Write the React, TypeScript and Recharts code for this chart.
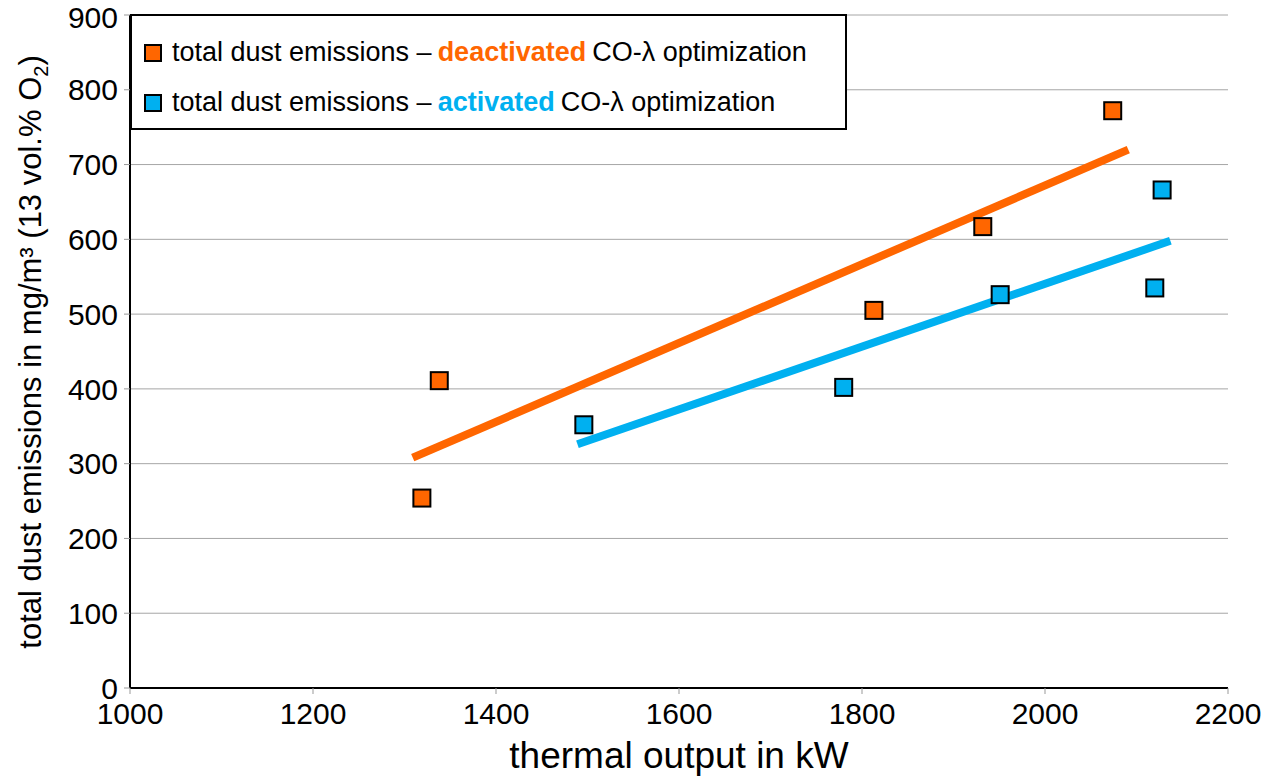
import {
  ScatterChart,
  Scatter,
  XAxis,
  YAxis,
  CartesianGrid,
} from "recharts";

const deactivated = [
  { x: 1319, y: 254 },
  { x: 1338, y: 411 },
  { x: 1813, y: 505 },
  { x: 1932, y: 617 },
  { x: 2074, y: 772 },
];

const activated = [
  { x: 1496, y: 352 },
  { x: 1780, y: 402 },
  { x: 1951, y: 526 },
  { x: 2120, y: 535 },
  { x: 2128, y: 666 },
];

const deactivatedTrend = [
  { x: 1309, y: 308 },
  { x: 2091, y: 720 },
];

const activatedTrend = [
  { x: 1489, y: 326 },
  { x: 2137, y: 598 },
];

const xTicks = [1000, 1200, 1400, 1600, 1800, 2000, 2200];
const yTicks = [0, 100, 200, 300, 400, 500, 600, 700, 800, 900];

const ORANGE = "#ff6600";
const BLUE = "#00b0f0";
const FONT = "'Liberation Sans', Arial, sans-serif";

const square = (fill: string) => (props: any) => {
  const { cx, cy } = props;
  return (
    <rect
      x={cx - 8.5}
      y={cy - 8.5}
      width={17}
      height={17}
      fill={fill}
      stroke="#000"
      strokeWidth={2}
    />
  );
};

const noShape = () => <g />;

const YLabel = () => (
  <text
    transform="translate(41, 352) rotate(-90)"
    textAnchor="middle"
    fontFamily={FONT}
    fontSize={31}
    fill="#000"
  >
    total dust emissions in mg/m³ (13 vol.% O
    <tspan fontSize={20} dy={7}>
      2
    </tspan>
    <tspan dy={-7}>)</tspan>
  </text>
);

const LegendBox = () => (
  <div
    style={{
      position: "absolute",
      left: 130,
      top: 14,
      width: 713,
      height: 112,
      background: "#fff",
      border: "2px solid #000",
      fontFamily: FONT,
      fontSize: 27,
      color: "#000",
    }}
  >
    {[
      { color: ORANGE, word: "deactivated", top: 21 },
      { color: BLUE, word: "activated", top: 71 },
    ].map((r) => (
      <div
        key={r.word}
        style={{
          position: "absolute",
          left: 12,
          top: r.top,
          display: "flex",
          alignItems: "center",
          whiteSpace: "nowrap",
        }}
      >
        <span
          style={{
            display: "inline-block",
            width: 14,
            height: 14,
            background: r.color,
            border: "2px solid #000",
            marginRight: 10,
          }}
        />
        <span style={{ color: "#000" }}>total dust emissions – </span>
        <span style={{ color: r.color, fontWeight: "bold", margin: "0 6px" }}>
          {r.word}
        </span>
        <span style={{ color: "#000" }}>CO-λ optimization</span>
      </div>
    ))}
  </div>
);

export default function App() {
  return (
    <div
      style={{
        position: "absolute",
        left: 0,
        top: 0,
        width: 1268,
        height: 778,
        background: "#fff",
      }}
    >
      <ScatterChart
        width={1268}
        height={778}
        margin={{ top: 15, right: 40, bottom: 0, left: 0 }}
      >
        <CartesianGrid vertical={false} stroke="#a6a6a6" />
        <XAxis
          type="number"
          dataKey="x"
          domain={[1000, 2200]}
          ticks={xTicks}
          height={90}
          tick={{ fontSize: 30, fontFamily: FONT, fill: "#000" }}
          tickLine={{ stroke: "#999" }}
          tickSize={6}
          tickMargin={9}
          axisLine={{ stroke: "#000", strokeWidth: 2 }}
          label={{
            value: "thermal output in kW",
            position: "insideBottom",
            offset: 10,
            fontSize: 37,
            fontFamily: FONT,
            fill: "#000",
          }}
        />
        <XAxis
          xAxisId="top"
          orientation="top"
          type="number"
          domain={[1000, 2200]}
          height={0}
          tick={false}
          tickLine={false}
          axisLine={{ stroke: "#000", strokeWidth: 2 }}
        />
        <YAxis
          type="number"
          dataKey="y"
          domain={[0, 900]}
          ticks={yTicks}
          width={130}
          tick={{ fontSize: 30, fontFamily: FONT, fill: "#000" }}
          tickLine={{ stroke: "#999" }}
          tickSize={6}
          tickMargin={6}
          axisLine={{ stroke: "#000", strokeWidth: 2 }}
          label={<YLabel />}
        />
        <YAxis
          yAxisId="right"
          orientation="right"
          type="number"
          domain={[0, 900]}
          width={0}
          tick={false}
          tickLine={false}
          axisLine={{ stroke: "#000", strokeWidth: 2 }}
        />
        <Scatter
          data={deactivatedTrend}
          line={{ stroke: ORANGE, strokeWidth: 8 }}
          lineType="joint"
          shape={noShape}
          isAnimationActive={false}
        />
        <Scatter
          data={activatedTrend}
          line={{ stroke: BLUE, strokeWidth: 8 }}
          lineType="joint"
          shape={noShape}
          isAnimationActive={false}
        />
        <Scatter
          data={deactivated}
          shape={square(ORANGE)}
          isAnimationActive={false}
        />
        <Scatter
          data={activated}
          shape={square(BLUE)}
          isAnimationActive={false}
        />
      </ScatterChart>
      <LegendBox />
    </div>
  );
}
